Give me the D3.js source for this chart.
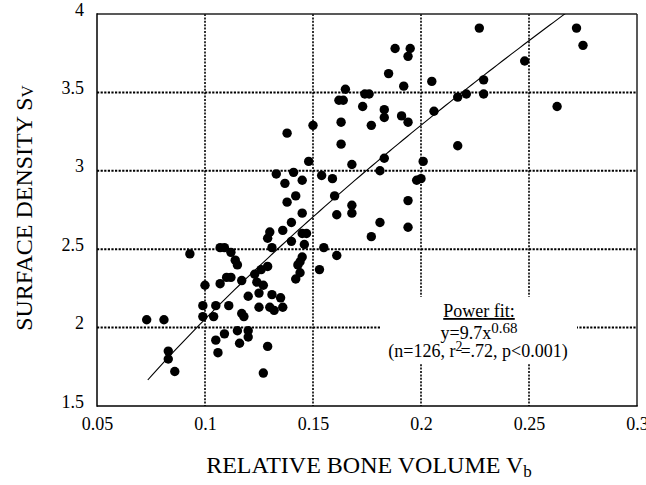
<!DOCTYPE html>
<html>
<head>
<meta charset="utf-8">
<script src="https://cdn.jsdelivr.net/npm/d3@7"></script>
<style>
  html, body { margin: 0; padding: 0; background: #fff; }
  svg { display: block; }
  text { font-family: "Liberation Serif", "Times New Roman", serif; fill: #000; }
</style>
</head>
<body>
<svg id="chart" width="646" height="485"></svg>
<script>
// ---- data ----
const boneVolume = [
  0.073, 0.081, 0.093, 0.083, 0.083, 0.086,
  0.133, 0.141, 0.137, 0.145, 0.154, 0.159, 0.142, 0.138, 0.160, 0.145,
  0.161, 0.168, 0.168, 0.181, 0.177, 0.194, 0.194, 0.198, 0.200, 0.181,
  0.130, 0.129, 0.136, 0.140, 0.131, 0.140, 0.145, 0.147, 0.146, 0.155,
  0.161, 0.107, 0.109, 0.112, 0.114, 0.115, 0.144, 0.143, 0.145, 0.144,
  0.142, 0.153, 0.129, 0.126, 0.123, 0.100, 0.107, 0.110, 0.112, 0.117,
  0.124, 0.127, 0.125, 0.131, 0.135, 0.120, 0.111, 0.105, 0.099, 0.117,
  0.118, 0.104, 0.099, 0.125, 0.130, 0.132, 0.136, 0.105, 0.109, 0.115,
  0.120, 0.120, 0.116, 0.106, 0.129, 0.127,
  0.188, 0.195, 0.194, 0.185, 0.192, 0.205, 0.165, 0.162, 0.164, 0.174,
  0.176, 0.173, 0.183, 0.183, 0.191, 0.194, 0.206, 0.138, 0.150, 0.163,
  0.177, 0.163, 0.168, 0.183, 0.201, 0.148,
  0.227, 0.272, 0.275, 0.248, 0.229, 0.217, 0.221, 0.229, 0.263, 0.217
];
const surfaceDensity = [
  2.05, 2.05, 2.47, 1.85, 1.80, 1.72,
  2.98, 2.99, 2.92, 2.94, 2.97, 2.95, 2.84, 2.80, 2.84, 2.73,
  2.72, 2.78, 2.73, 2.67, 2.58, 2.81, 2.64, 2.94, 2.95, 3.00,
  2.61, 2.57, 2.62, 2.67, 2.51, 2.55, 2.60, 2.60, 2.53, 2.51,
  2.46, 2.51, 2.51, 2.48, 2.43, 2.40, 2.42, 2.40, 2.45, 2.35,
  2.31, 2.37, 2.39, 2.37, 2.34, 2.27, 2.28, 2.32, 2.32, 2.30,
  2.29, 2.27, 2.22, 2.21, 2.19, 2.20, 2.14, 2.14, 2.14, 2.09,
  2.07, 2.07, 2.07, 2.13, 2.13, 2.11, 2.13, 1.92, 1.96, 1.98,
  1.98, 1.94, 1.90, 1.84, 1.88, 1.71,
  3.78, 3.78, 3.73, 3.62, 3.54, 3.57, 3.52, 3.45, 3.45, 3.49,
  3.49, 3.41, 3.39, 3.34, 3.35, 3.31, 3.38, 3.24, 3.29, 3.31,
  3.29, 3.17, 3.04, 3.08, 3.06, 3.06,
  3.91, 3.91, 3.80, 3.70, 3.58, 3.47, 3.49, 3.49, 3.41, 3.16
];
const xTickValues = [0.05, 0.1, 0.15, 0.2, 0.25, 0.3];
const xTickLabels = ["0.05", "0.1", "0.15", "0.2", "0.25", "0.3"];
const yTickValues = [1.5, 2, 2.5, 3, 3.5, 4];
const yTickLabels = ["1.5", "2", "2.5", "3", "3.5", "4"];
const xGridValues = [0.1, 0.15, 0.2, 0.25];
const yGridValues = [2, 2.5, 3, 3.5];
const fitCoef = 9.83;      // curve as drawn in the reference
const fitExp = 0.68;
const fitStartX = 0.0735;
const fitEndX = 0.3;

// ---- layout ----
const svg = d3.select("#chart");
const L = 97, R = 637, T = 14, B = 406;
const x = d3.scaleLinear().domain([0.05, 0.3]).range([L, R]);
const y = d3.scaleLinear().domain([1.5, 4]).range([B, T]);

// grid lines
const grid = svg.append("g");
grid.selectAll("line.h").data(yGridValues).enter().append("line")
  .attr("x1", L).attr("x2", R)
  .attr("y1", d => y(d)).attr("y2", d => y(d))
  .attr("stroke", "#000").attr("stroke-width", 2).attr("stroke-dasharray", "2.2,1.4");
grid.selectAll("line.v").data(xGridValues).enter().append("line")
  .attr("y1", T).attr("y2", B)
  .attr("x1", d => x(d)).attr("x2", d => x(d))
  .attr("stroke", "#000").attr("stroke-width", 1.6).attr("stroke-dasharray", "2,1.4");

// white box behind annotation
svg.append("rect").attr("x", 380).attr("y", 297).attr("width", 197).attr("height", 66).attr("fill", "#fff");

// frame
svg.append("line").attr("x1", L).attr("x2", R).attr("y1", T).attr("y2", T).attr("stroke", "#222").attr("stroke-width", 1.5);
svg.append("line").attr("x1", R).attr("x2", R).attr("y1", T).attr("y2", B).attr("stroke", "#222").attr("stroke-width", 1.5);
svg.append("line").attr("x1", L).attr("x2", L).attr("y1", T - 0.75).attr("y2", B + 0.75).attr("stroke", "#000").attr("stroke-width", 1.5);
svg.append("line").attr("x1", L).attr("x2", R + 0.75).attr("y1", B).attr("y2", B).attr("stroke", "#000").attr("stroke-width", 1.5);

// axes (labels only)
const xAxis = d3.axisBottom(x).tickValues(xTickValues).tickFormat((d, i) => xTickLabels[i]).tickSize(0).tickPadding(0);
const gx = svg.append("g").attr("transform", `translate(0,${B})`).call(xAxis);
gx.select(".domain").remove();
gx.selectAll("text").attr("font-size", 18).attr("dy", null).attr("y", 24)
  .style("font-family", "'Liberation Serif','Times New Roman',serif");

const yAxis = d3.axisLeft(y).tickValues(yTickValues).tickFormat((d, i) => yTickLabels[i]).tickSize(0).tickPadding(0);
const gy = svg.append("g").attr("transform", `translate(84,0)`).call(yAxis);
gy.select(".domain").remove();
gy.selectAll("text").attr("font-size", 18).attr("dy", null).attr("y", 1).attr("x", 0)
  .style("font-family", "'Liberation Serif','Times New Roman',serif");

// points
const pts = boneVolume.map((v, i) => ({ v, s: surfaceDensity[i] }));
svg.append("g").selectAll("circle").data(pts).enter().append("circle")
  .attr("cx", d => x(d.v)).attr("cy", d => y(d.s)).attr("r", 4.7).attr("fill", "#000");

// fit curve
const defs = svg.append("defs");
defs.append("clipPath").attr("id", "plotclip").append("rect")
  .attr("x", L).attr("y", T).attr("width", R - L).attr("height", B - T);
const fitX = d3.range(fitStartX, fitEndX, 0.002);
const fitLine = d3.line().x(d => x(d)).y(d => y(fitCoef * Math.pow(d, fitExp)));
svg.append("path").datum(fitX).attr("d", fitLine)
  .attr("fill", "none").attr("stroke", "#000").attr("stroke-width", 1.1)
  .attr("clip-path", "url(#plotclip)");

// annotation
const ann = svg.append("g").attr("font-size", 18).attr("text-anchor", "middle");
ann.append("text").attr("x", 479).attr("y", 317).text("Power fit:")
  .attr("text-decoration", "underline");
const t2 = ann.append("text").attr("x", 479).attr("y", 339);
t2.append("tspan").text("y=9.7x");
t2.append("tspan").attr("dy", -6).attr("font-size", 15).text("0.68");
const t3 = ann.append("text").attr("x", 478).attr("y", 357);
t3.append("tspan").text("(n=126, r");
t3.append("tspan").attr("dy", -6).attr("font-size", 14).text("2");
t3.append("tspan").attr("dy", 6).attr("dx", -2).text("=.72, p<0.001)");

// axis titles
const xt = svg.append("text").attr("x", 369).attr("y", 473).attr("text-anchor", "middle").attr("font-size", 24);
xt.append("tspan").text("RELATIVE BONE VOLUME V");
xt.append("tspan").attr("dy", 4).attr("font-size", 17).text("b");

const yt = svg.append("text").attr("transform", "translate(32,208) rotate(-90)").attr("text-anchor", "middle").attr("font-size", 24);
yt.append("tspan").text("SURFACE DENSITY S");
yt.append("tspan").attr("font-size", 17).attr("dy", 1).text("V");
</script>
</body>
</html>
